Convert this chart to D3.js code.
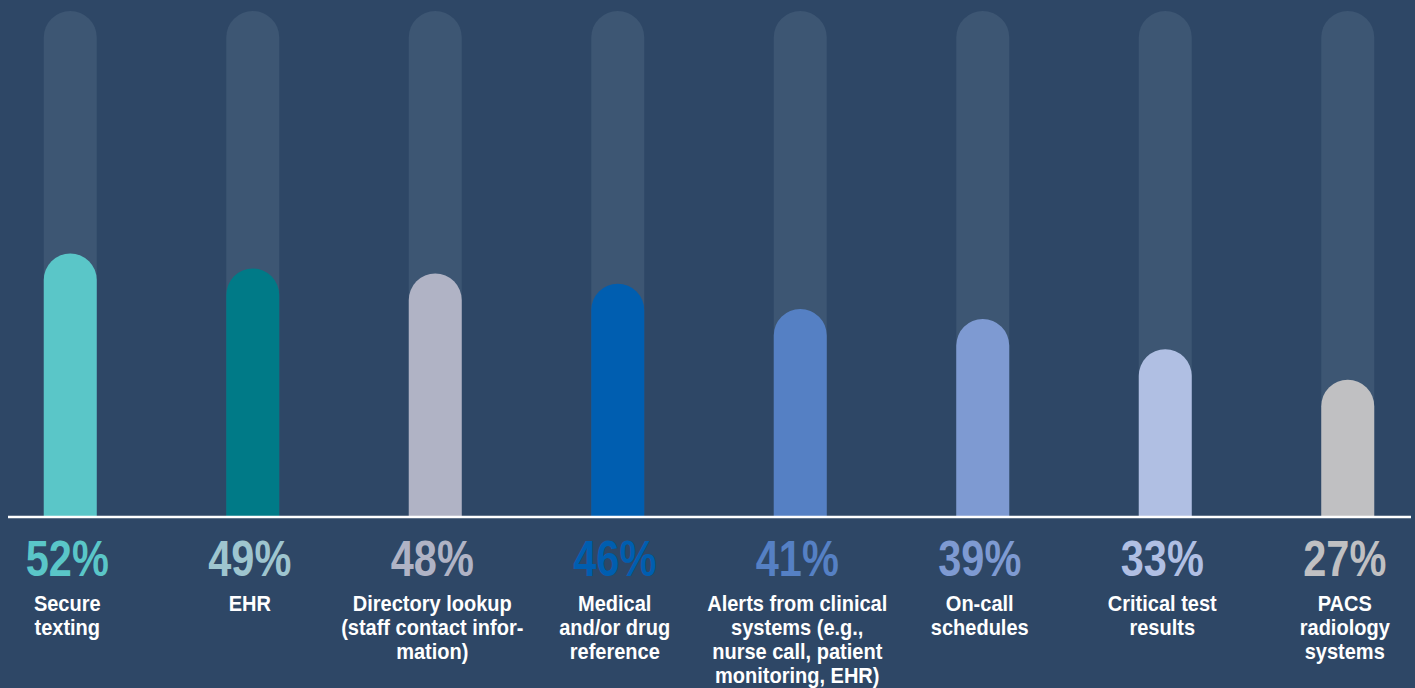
<!DOCTYPE html>
<html>
<head>
<meta charset="utf-8">
<script src="https://cdn.jsdelivr.net/npm/d3@7"></script>
<style>
  html, body { margin: 0; padding: 0; background: #2e4766; }
  svg { display: block; }
</style>
</head>
<body>
<div id="chart"></div>
<script>
// data
var categories = [
  ["Secure", "texting"],
  ["EHR"],
  ["Directory lookup", "(staff contact infor-", "mation)"],
  ["Medical", "and/or drug", "reference"],
  ["Alerts from clinical", "systems (e.g.,", "nurse call, patient", "monitoring, EHR)"],
  ["On-call", "schedules"],
  ["Critical test", "results"],
  ["PACS", "radiology", "systems"]
];
var values = [52, 49, 48, 46, 41, 39, 33, 27];
var barColors = ["#5ac6c8", "#007a87", "#b0b3c5", "#005eb0", "#5580c4", "#7e9ad2", "#b0bfe3", "#c0c0c2"];
var labelColors = ["#5ac6c8", "#9ec5cf", "#b0b3c5", "#005eb0", "#5580c4", "#7e9ad2", "#b0bfe3", "#c0c0c2"];

var chart_width = 1415;
var chart_height = 688;
var baseline = 516;
var barWidth = 53;

var svg = d3.select('#chart')
  .append('svg')
  .attr('width', chart_width)
  .attr('height', chart_height);

svg.append('rect')
  .attr('width', chart_width)
  .attr('height', chart_height)
  .attr('fill', '#2e4766');

var x_scale = d3.scaleBand()
  .domain(d3.range(values.length))
  .range([-21, 1439])
  .paddingInner(0);

var y_scale = d3.scaleLinear()
  .domain([0, 100])
  .range([baseline, 11]);

function cx(i) { return x_scale(i) + x_scale.bandwidth() / 2; }

// rounded-top bar path
function pill(x, top, bottom, w) {
  var r = w / 2;
  return "M" + (x - r) + "," + bottom +
    "L" + (x - r) + "," + (top + r) +
    "A" + r + "," + r + " 0 0 1 " + (x + r) + "," + (top + r) +
    "L" + (x + r) + "," + bottom + "Z";
}

// background tracks
svg.append('g')
  .selectAll('path')
  .data(values)
  .enter()
  .append('path')
  .attr('d', function(d, i) { return pill(cx(i), y_scale(100), baseline, barWidth); })
  .attr('fill', '#3d5673');

// value bars
svg.append('g')
  .selectAll('path')
  .data(values)
  .enter()
  .append('path')
  .attr('d', function(d, i) { return pill(cx(i), y_scale(d), baseline, barWidth); })
  .attr('fill', function(d, i) { return barColors[i]; });

// baseline
svg.append('line')
  .attr('x1', 8)
  .attr('x2', 1411)
  .attr('y1', baseline + 1)
  .attr('y2', baseline + 1)
  .attr('stroke', '#ffffff')
  .attr('stroke-width', 2.5);

var font = "'Liberation Sans', Arial, sans-serif";

// one group per column, squeezed horizontally to fake a condensed face
var cols = svg.append('g')
  .selectAll('g')
  .data(values)
  .enter()
  .append('g')
  .attr('transform', function(d, i) { return 'translate(' + (cx(i) - 3) + ',0)'; });

// percentages
cols.append('text')
  .attr('transform', 'scale(0.83,1)')
  .attr('y', 576)
  .attr('text-anchor', 'middle')
  .attr('font-family', font)
  .attr('font-weight', 'bold')
  .attr('font-size', 50)
  .attr('fill', function(d, i) { return labelColors[i]; })
  .text(function(d) { return d + '%'; });

// category labels
var labels = cols.append('text')
  .attr('transform', 'scale(0.91,1)')
  .attr('y', 611)
  .attr('text-anchor', 'middle')
  .attr('font-family', font)
  .attr('font-weight', 'bold')
  .attr('font-size', 22)
  .attr('fill', '#ffffff');

labels.selectAll('tspan')
  .data(function(d, i) { return categories[i]; })
  .enter()
  .append('tspan')
  .attr('x', 0)
  .attr('dy', function(d, j) { return j === 0 ? 0 : 24; })
  .text(function(d) { return d; });
</script>
</body>
</html>
